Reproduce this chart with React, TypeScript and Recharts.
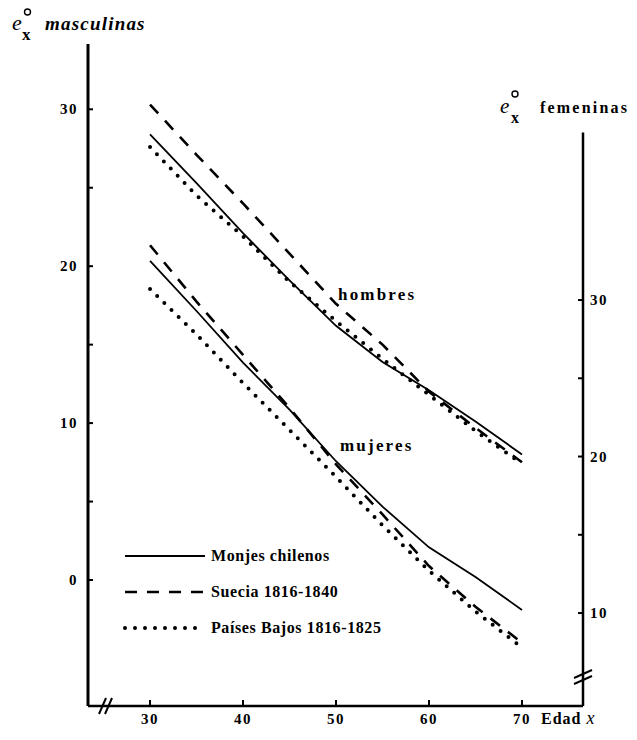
import React from "react";
import { LineChart, Line, XAxis, YAxis, ReferenceLine, Customized } from "recharts";

// Esperanza de vida a la edad x, por sexo
const edades = [30, 35, 40, 45, 50, 55, 60, 65, 70];

const monjesHombres = [28.4, 25.3, 22.1, 19.1, 16.2, 13.9, 12.1, 10.1, 8.0];
const sueciaHombres = [30.3, 27.1, 24.0, 20.8, 17.6, 15.0, 12.0, 9.7, 7.5];
const paisesBajosHombres = [27.6, 24.5, 21.9, 19.0, 16.5, 14.1, 11.8, 9.5, 7.4];

const monjesMujeres = [32.5, 29.3, 26.0, 23.0, 19.7, 16.8, 14.2, 12.3, 10.2];
const sueciaMujeres = [33.5, 29.9, 26.5, 23.1, 19.5, 16.3, 13.0, 10.4, 8.1];
const paisesBajosMujeres = [30.7, 27.8, 24.7, 21.7, 18.7, 15.6, 12.7, 10.1, 7.8];

const edadTicks = [30, 40, 50, 60, 70];
const masculinasTicks = [0, 5, 10, 15, 20, 25, 30];
const femeninasTicks = [10, 15, 20, 25, 30];

const xDomain: [number, number] = [23.33, 76.56];
const leftDomain: [number, number] = [-8.03, 34.16];
const rightDomain: [number, number] = [4.06, 46.36];
const rightAxisTop = 40.7;

const FONT = "'Liberation Serif', 'DejaVu Serif', serif";

const data = edades.map((edad, i) => ({
  edad,
  monjesH: monjesHombres[i],
  sueciaH: sueciaHombres[i],
  paisesH: paisesBajosHombres[i],
  monjesM: monjesMujeres[i],
  sueciaM: sueciaMujeres[i],
  paisesM: paisesBajosMujeres[i],
}));

const estilos = {
  solido: { strokeWidth: 1.8 },
  guiones: { strokeWidth: 2.6, strokeDasharray: "12 10" },
  puntos: { strokeWidth: 4, strokeDasharray: "0 10", strokeLinecap: "round" as const },
};

const leyenda = [
  { nombre: "Monjes chilenos", estilo: estilos.solido },
  { nombre: "Suecia 1816-1840", estilo: estilos.guiones },
  { nombre: "Países Bajos 1816-1825", estilo: estilos.puntos },
];

const tickText = {
  fontFamily: FONT,
  fontWeight: 700,
  fontSize: 15,
  letterSpacing: 1.5,
  fill: "#000",
};

const EdadTick = ({ x, y, payload }: any) => (
  <g>
    <line x1={x} y1={y} x2={x} y2={y - 6} stroke="#000" strokeWidth={2} />
    <text x={x} y={y + 18} textAnchor="middle" {...tickText}>
      {payload.value}
    </text>
  </g>
);

const MascTick = ({ x, y, payload }: any) => (
  <g>
    <line x1={x} y1={y} x2={x + 5} y2={y} stroke="#000" strokeWidth={2} />
    {payload.value % 10 === 0 && (
      <text x={x - 10} y={y + 5} textAnchor="end" {...tickText}>
        {payload.value}
      </text>
    )}
  </g>
);

const FemTick = ({ x, y, payload }: any) => (
  <g>
    <line x1={x} y1={y} x2={x - 5} y2={y} stroke="#000" strokeWidth={2} />
    {payload.value % 10 === 0 && (
      <text x={x + 7} y={y + 5} textAnchor="start" {...tickText}>
        {payload.value}
      </text>
    )}
  </g>
);

const Anotaciones = () => (
  <g fontFamily={FONT} fill="#000">
    {/* título eje izquierdo */}
    <text x={4} y={22} fontSize={22} fontStyle="italic">e</text>
    <circle cx={19.5} cy={4} r={3} fill="none" stroke="#000" strokeWidth={1.4} />
    <text x={14} y={32} fontSize={17} fontWeight={700}>x</text>
    <text x={37} y={22} fontSize={19} fontStyle="italic" fontWeight={700} letterSpacing={1.2}>
      masculinas
    </text>

    {/* título eje derecho */}
    <text x={492} y={105} fontSize={21} fontStyle="italic">e</text>
    <circle cx={507} cy={86} r={3} fill="none" stroke="#000" strokeWidth={1.4} />
    <text x={503} y={115} fontSize={16} fontWeight={700}>x</text>
    <text x={532} y={105} fontSize={16} fontWeight={700} letterSpacing={2.2}>
      femeninas
    </text>

    <text x={533} y={716} fontSize={16} fontWeight={700} letterSpacing={1}>
      Edad <tspan fontStyle="italic" fontWeight={400} fontSize={18}>x</tspan>
    </text>

    <text x={330} y={292} fontSize={17} fontWeight={700} letterSpacing={2.2}>hombres</text>
    <text x={332} y={443} fontSize={17} fontWeight={700} letterSpacing={2.2}>mujeres</text>

    {/* cortes de eje */}
    <line x1={91} y1={706} x2={98} y2={690} stroke="#000" strokeWidth={2} />
    <line x1={97} y1={706} x2={104} y2={690} stroke="#000" strokeWidth={2} />
    <line x1={566} y1={670} x2={584} y2={662} stroke="#000" strokeWidth={2} />
    <line x1={566} y1={676} x2={584} y2={668} stroke="#000" strokeWidth={2} />

    {/* leyenda */}
    {leyenda.map((s, i) => {
      const y = 548 + i * 36;
      return (
        <g key={s.nombre}>
          <line x1={117} y1={y} x2={197} y2={y} stroke="#000" {...s.estilo} />
          <text x={203} y={y + 5} fontSize={16} fontWeight={700} letterSpacing={0.6}>
            {s.nombre}
          </text>
        </g>
      );
    })}
  </g>
);

export default function App() {
  return (
    <LineChart
      width={621}
      height={720}
      data={data}
      margin={{ top: 36, right: 0, bottom: 0, left: 0 }}
    >
      <XAxis
        dataKey="edad"
        type="number"
        domain={xDomain}
        allowDataOverflow
        ticks={edadTicks}
        tick={<EdadTick />}
        tickLine={false}
        tickSize={0}
        tickMargin={0}
        height={22}
        axisLine={{ stroke: "#000", strokeWidth: 2.5 }}
      />
      <YAxis
        yAxisId="left"
        orientation="left"
        width={80}
        domain={leftDomain}
        allowDataOverflow
        ticks={masculinasTicks}
        tick={<MascTick />}
        tickLine={false}
        tickSize={0}
        tickMargin={0}
        axisLine={{ stroke: "#000", strokeWidth: 3 }}
      />
      <YAxis
        yAxisId="right"
        orientation="right"
        width={46}
        domain={rightDomain}
        allowDataOverflow
        ticks={femeninasTicks}
        tick={<FemTick />}
        tickLine={false}
        tickSize={0}
        tickMargin={0}
        axisLine={false}
      />
      <ReferenceLine
        yAxisId="right"
        segment={[
          { x: xDomain[1], y: rightAxisTop },
          { x: xDomain[1], y: rightDomain[0] },
        ]}
        stroke="#000"
        strokeWidth={2.5}
        ifOverflow="visible"
      />

      <Line yAxisId="left" type="linear" dataKey="monjesH" stroke="#000" {...estilos.solido} dot={false} isAnimationActive={false} />
      <Line yAxisId="left" type="linear" dataKey="sueciaH" stroke="#000" {...estilos.guiones} dot={false} isAnimationActive={false} />
      <Line yAxisId="left" type="linear" dataKey="paisesH" stroke="#000" {...estilos.puntos} dot={false} isAnimationActive={false} />

      <Line yAxisId="right" type="linear" dataKey="monjesM" stroke="#000" {...estilos.solido} dot={false} isAnimationActive={false} />
      <Line yAxisId="right" type="linear" dataKey="sueciaM" stroke="#000" {...estilos.guiones} dot={false} isAnimationActive={false} />
      <Line yAxisId="right" type="linear" dataKey="paisesM" stroke="#000" {...estilos.puntos} dot={false} isAnimationActive={false} />

      <Customized component={<Anotaciones />} />
    </LineChart>
  );
}
